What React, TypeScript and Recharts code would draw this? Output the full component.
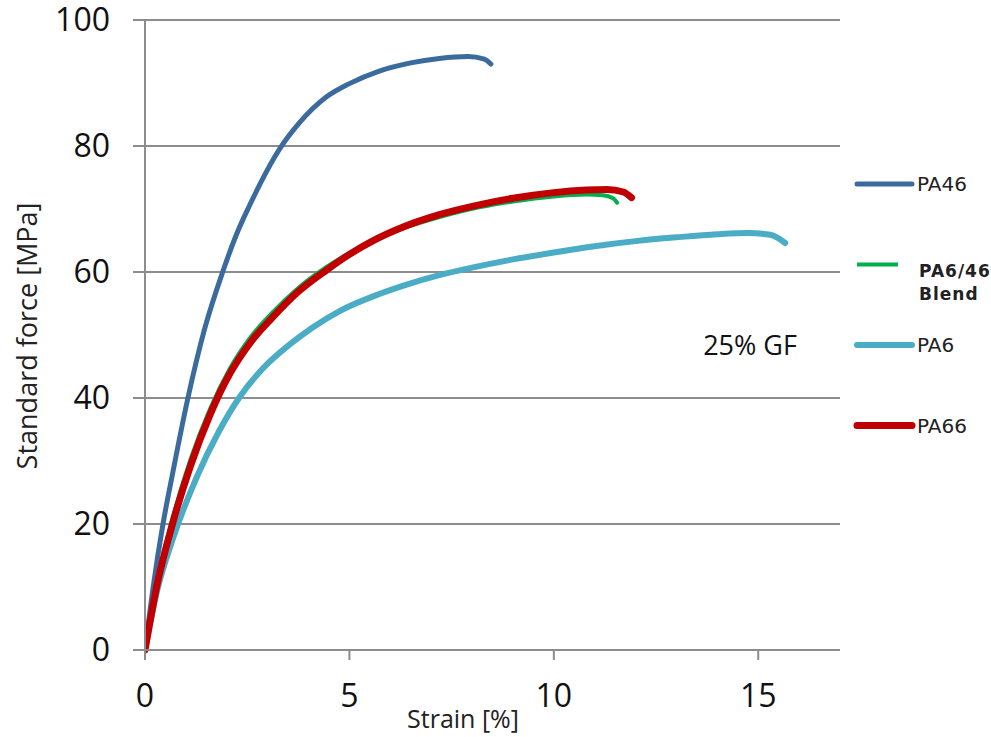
import React from 'react';
import { LineChart, Line, XAxis, YAxis, CartesianGrid, ReferenceDot } from 'recharts';

// strain [%] / stress [MPa] samples
const PA46_STRAIN = [0, 0.2, 0.44, 0.66, 1.05, 1.46, 1.9, 2.24, 2.56, 2.8, 3.29, 3.78, 4.44, 5, 5.73, 6.5, 7.2, 7.9, 8.3, 8.46];
const PA46_STRESS = [0, 10, 20, 27.5, 40, 51, 60, 66, 70.6, 73.8, 79.5, 83.7, 87.8, 89.9, 91.9, 93.2, 93.9, 94.2, 93.8, 93.0];

const BLEND_STRAIN = [0, 0.3, 0.65, 1.1, 1.6, 2.07, 2.6, 3.12, 3.7, 4.44, 5, 5.56, 6.3, 7.2, 8.2, 9, 10, 10.8, 11.2, 11.45, 11.55];
const BLEND_STRESS = [0, 11, 20.3, 30, 38.4, 44.6, 49.8, 53.6, 57.2, 60.8, 63.0, 64.9, 66.9, 68.7, 70.3, 71.2, 72.0, 72.3, 72.2, 71.7, 71.0];

const PA6_STRAIN = [0, 0.3, 0.7, 1.27, 1.8, 2.32, 2.9, 3.54, 4.1, 4.76, 5.73, 6.4, 7.2, 8, 9, 10, 11, 12, 13, 14, 14.75, 15.3, 15.66];
const PA6_STRESS = [0, 9.5, 18, 27.5, 34.6, 40.2, 44.8, 48.5, 51.2, 53.8, 56.5, 58, 59.5, 60.7, 62, 63.1, 64.1, 64.9, 65.5, 66, 66.2, 65.9, 64.6];

const PA66_STRAIN = [0, 0.3, 0.65, 1.1, 1.6, 2.07, 2.6, 3.12, 3.7, 4.44, 5, 5.56, 6.3, 7.2, 8.2, 9, 10, 10.8, 11.3, 11.7, 11.9];
const PA66_STRESS = [0, 10.5, 19.5, 29, 37.5, 43.8, 49, 52.8, 56.6, 60.3, 62.8, 64.9, 67.1, 69.1, 70.7, 71.7, 72.6, 73.0, 73.1, 72.7, 71.8];

const X_TICKS = [0, 5, 10, 15];
const Y_TICKS = [0, 20, 40, 60, 80, 100];

const zip = (xs: number[], ys: number[]) => xs.map((x, i) => ({ strain: x, stress: ys[i] }));

const SERIES = [
  { name: 'PA6', color: '#4BACC6', width: 6, data: zip(PA6_STRAIN, PA6_STRESS) },
  { name: 'PA46', color: '#3B6A9E', width: 5, data: zip(PA46_STRAIN, PA46_STRESS) },
  { name: 'PA6/46 Blend', color: '#00B050', width: 4, data: zip(BLEND_STRAIN, BLEND_STRESS) },
  { name: 'PA66', color: '#C00000', width: 7, data: zip(PA66_STRAIN, PA66_STRESS) },
];

const LEGEND_ORDER = ['PA46', 'PA6/46 Blend', 'PA6', 'PA66'];
const GRID = '#8c8c8c';
const FONT = 'Open Sans';

const LegendBox = () => (
  <svg width={141} height={300} style={{ position: 'absolute', left: 850, top: 160 }}>
    {LEGEND_ORDER.map((name, i) => {
      const s = SERIES.find((d) => d.name === name)!;
      const y = 24 + i * 80.5;
      const isBlend = name === 'PA6/46 Blend';
      return (
        <g key={name}>
          <line x1={7} x2={isBlend ? 48 : 62} y1={y} y2={y} stroke={s.color} strokeWidth={s.width} strokeLinecap={isBlend ? 'butt' : 'round'} />
          {isBlend ? (
            <text fontFamily="DejaVu Sans" fontSize={17} fontWeight="bold" fill="#222" letterSpacing={1}>
              <tspan x={69} y={y + 12}>PA6/46</tspan>
              <tspan x={69} y={y + 35}>Blend</tspan>
            </text>
          ) : (
            <text x={67} y={y} dy="0.36em" fontFamily="DejaVu Sans" fontSize={20} fill="#222">{name}</text>
          )}
        </g>
      );
    })}
  </svg>
);

export default function App() {
  return (
    <div style={{ position: 'absolute', left: 0, top: 0, width: 991, height: 737, background: '#fff' }}>
      <LineChart width={991} height={737} margin={{ top: 20, right: 151, bottom: 0, left: 0 }}>
        <CartesianGrid vertical={false} stroke={GRID} strokeWidth={2} />
        <XAxis
          type="number"
          dataKey="strain"
          domain={[0, 17]}
          ticks={X_TICKS}
          allowDataOverflow
          height={87}
          stroke={GRID}
          strokeWidth={2}
          tickSize={10}
          tickMargin={24}
          tick={{ fill: '#111', fontSize: 32, fontFamily: FONT }}
          label={{
            content: () => (
              <text x={463} y={721} textAnchor="middle" dominantBaseline="middle" fontFamily={FONT} fontSize={25} fill="#222">
                Strain [%]
              </text>
            ),
          }}
        />
        <YAxis
          type="number"
          domain={[0, 100]}
          ticks={Y_TICKS}
          width={145}
          stroke={GRID}
          strokeWidth={2}
          tickSize={12}
          tickMargin={23}
          tick={{ fill: '#111', fontSize: 32, fontFamily: FONT }}
          label={{
            content: () => (
              <text x={30} y={336} transform="rotate(-90 30 336)" textAnchor="middle" dominantBaseline="middle" fontFamily={FONT} fontSize={27} fill="#222">
                Standard force [MPa]
              </text>
            ),
          }}
        />
        {SERIES.map((s) => (
          <Line
            key={s.name}
            data={s.data}
            dataKey="stress"
            name={s.name}
            type="monotone"
            stroke={s.color}
            strokeWidth={s.width}
            strokeLinecap="round"
            strokeLinejoin="round"
            dot={false}
            activeDot={false}
            isAnimationActive={false}
          />
        ))}
        <ReferenceDot
          x={14.8}
          y={48.3}
          r={0}
          stroke="none"
          fill="none"
          label={{ value: '25% GF', position: 'center', fontSize: 27, fontFamily: FONT, fill: '#111' }}
        />
      </LineChart>
      <LegendBox />
    </div>
  );
}
